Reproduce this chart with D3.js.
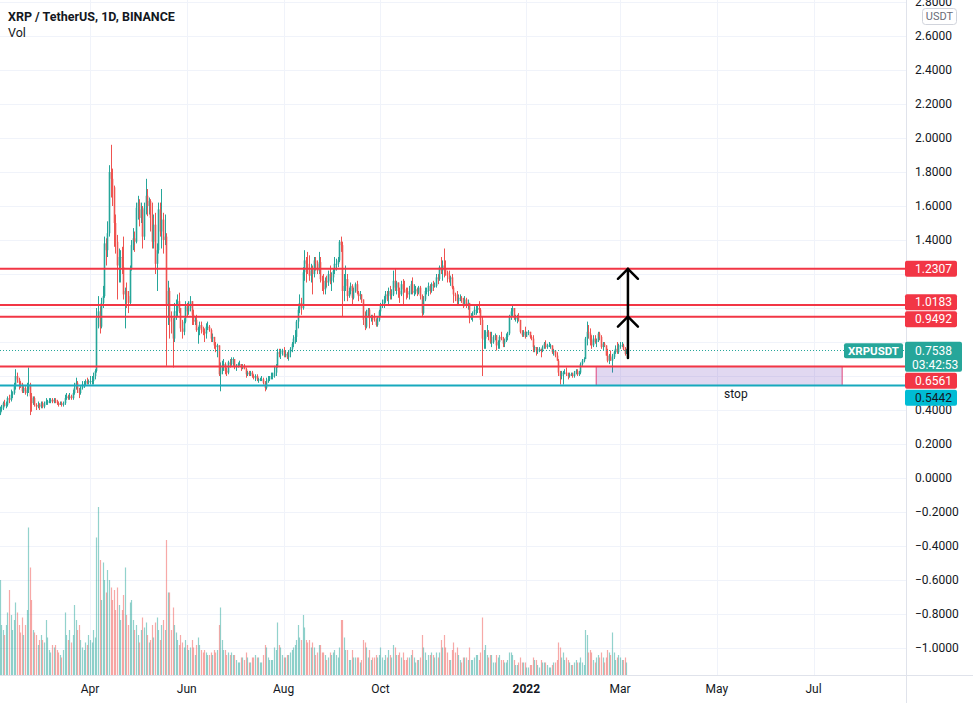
<!DOCTYPE html>
<html lang="en">
<head>
<meta charset="UTF-8">
<title>XRP / TetherUS, 1D, BINANCE</title>
<script src="https://cdn.jsdelivr.net/npm/d3@7"></script>
<style>
    body { margin: 0; background: #ffffff; }
    svg { display: block; font-family: Roboto, "Liberation Sans", sans-serif; }
</style>
</head>
<body>
<svg id="chart" width="973" height="703"></svg>
<script>
    // daily candles, first one is 2021-02-03; open = previous close
    var startDay = "2021-02-03";
    var firstOpen = 0.38;
    var closes = [
        // Feb 2021
        .41,.41,.44,.43,.43,.47,.46,.49,.50,.54,.60,.58,.56,.55,.51,.53,.50,.52,.55,.48,.44,.47,.43,.42,.43,.42,
        // Mar
        .44,.42,.44,.45,.45,.45,.46,.45,.46,.45,.44,.43,.44,.43,.44,.47,.48,.47,.48,.47,.50,.53,.56,.52,.50,.53,.55,.55,.57,.56,.57,
        // Apr
        .57,.57,.60,.63,.94,.98,.89,1.03,1.07,1.38,1.34,1.44,1.80,1.76,1.71,1.50,1.39,1.25,1.30,1.30,1.24,1.08,1.10,1.07,1.03,1.23,1.37,1.41,1.39,1.59,
        // May
        1.62,1.53,1.58,1.42,1.59,1.66,1.60,1.63,1.53,1.39,1.49,1.26,1.34,1.58,1.45,1.52,1.40,1.42,1.02,1.10,.95,.92,.82,.98,.98,1.04,1.00,.88,.86,.92,1.01,
        // Jun
        .98,1.00,1.04,.96,.92,.93,.87,.88,.90,.87,.86,.85,.89,.89,.87,.82,.83,.78,.77,.78,.61,.63,.66,.67,.63,.62,.68,.67,.70,.70,
        // Jul
        .66,.66,.67,.67,.65,.66,.64,.61,.62,.61,.62,.60,.59,.60,.58,.58,.58,.58,.56,.53,.57,.58,.59,.60,.60,.62,.66,.74,.73,.75,.75,
        // Aug
        .72,.73,.71,.74,.76,.79,.82,.83,.92,.99,1.03,1.00,1.21,1.28,1.26,1.22,1.19,1.23,1.20,1.28,1.26,1.22,1.27,1.17,1.16,1.11,1.16,1.15,1.20,1.16,1.18,
        // Sep
        1.22,1.26,1.26,1.28,1.39,1.37,1.10,1.13,1.17,1.07,1.10,1.13,1.06,1.10,1.14,1.09,1.07,1.08,1.05,.93,.89,.97,.99,.94,.95,.94,.93,.90,.93,.98,
        // Oct
        1.02,1.02,1.05,1.08,1.07,1.10,1.08,1.08,1.16,1.12,1.15,1.10,1.08,1.14,1.11,1.10,1.09,1.08,1.10,1.14,1.09,1.10,1.11,1.09,1.12,1.07,.97,1.05,1.10,1.10,1.13,
        // Nov
        1.10,1.14,1.13,1.13,1.18,1.17,1.24,1.22,1.25,1.23,1.21,1.19,1.17,1.18,1.12,1.08,1.07,1.04,1.06,1.06,1.05,1.02,1.05,1.02,1.03,.94,.95,.96,.99,.99,
        // Dec
        1.00,.99,.93,.82,.82,.85,.86,.84,.80,.80,.83,.84,.78,.80,.83,.82,.79,.81,.83,.85,.95,.98,1.00,.94,.94,.94,.93,.86,.84,.86,.83,
        // Jan 2022
        .86,.86,.83,.82,.77,.77,.75,.75,.76,.75,.77,.79,.77,.78,.78,.78,.74,.75,.72,.69,.62,.60,.62,.62,.62,.61,.60,.61,.61,.60,.62,
        // Feb
        .63,.61,.62,.67,.69,.70,.82,.86,.85,.81,.78,.82,.80,.81,.85,.83,.77,.79,.78,.72,.69,.72,.69,.71,.74,.76,.74,.78,
        // Mar
        .78,.78,.76,.73,.7538
    ];
    var highs = [
        .42,.43,.45,.46,.45,.48,.49,.52,.51,.56,.64,.62,.59,.57,.56,.54,.54,.56,.65,.56,.50,.48,.48,.44,.45,.44,
        .45,.45,.45,.47,.46,.47,.47,.47,.47,.47,.46,.45,.45,.45,.45,.49,.50,.49,.50,.49,.52,.56,.59,.57,.53,.54,.57,.57,.58,.59,.58,
        .60,.60,.62,.64,1.00,1.07,1.01,1.06,1.13,1.42,1.41,1.51,1.84,1.96,1.82,1.72,1.55,1.43,1.35,1.34,1.36,1.42,1.12,1.15,1.10,1.25,1.40,1.47,1.45,1.62,
        1.66,1.64,1.62,1.60,1.62,1.76,1.70,1.65,1.64,1.62,1.55,1.56,1.38,1.62,1.62,1.70,1.56,1.55,1.44,1.16,1.12,.98,.94,1.03,1.05,1.08,1.09,1.00,.93,.94,1.04,
        1.03,1.04,1.07,1.04,.99,.95,.96,.89,.92,.92,.89,.88,.91,.92,.90,.88,.85,.83,.80,.79,.78,.68,.69,.70,.68,.65,.69,.70,.71,.71,
        .70,.67,.68,.69,.67,.67,.67,.65,.63,.63,.63,.63,.61,.61,.61,.59,.59,.60,.59,.57,.59,.60,.60,.62,.62,.66,.67,.76,.76,.76,.76,
        .77,.75,.74,.75,.77,.80,.84,.87,.93,1.01,1.08,1.06,1.24,1.34,1.30,1.33,1.31,1.26,1.25,1.30,1.30,1.28,1.33,1.30,1.19,1.20,1.18,1.19,1.22,1.25,1.21,
        1.23,1.30,1.29,1.30,1.40,1.42,1.39,1.20,1.25,1.20,1.12,1.15,1.14,1.12,1.15,1.16,1.10,1.10,1.08,1.05,.98,.99,1.00,1.00,.96,.96,.97,.94,.95,.99,
        1.03,1.05,1.07,1.10,1.10,1.12,1.13,1.11,1.22,1.23,1.16,1.15,1.12,1.16,1.17,1.16,1.12,1.12,1.13,1.16,1.18,1.14,1.13,1.12,1.13,1.13,1.08,1.07,1.12,1.12,1.15,
        1.14,1.15,1.16,1.15,1.20,1.20,1.25,1.30,1.28,1.35,1.28,1.22,1.22,1.19,1.20,1.13,1.09,1.10,1.08,1.08,1.07,1.06,1.07,1.06,1.05,1.03,.97,.98,1.01,1.02,
        1.02,1.04,1.00,.95,.87,.87,.90,.87,.86,.86,.84,.85,.84,.81,.84,.86,.83,.82,.85,.86,.96,1.00,1.02,1.00,.96,.96,.97,.93,.87,.87,.89,
        .86,.87,.86,.84,.84,.78,.77,.77,.77,.76,.78,.80,.81,.79,.80,.79,.78,.76,.75,.74,.70,.63,.63,.63,.64,.65,.62,.62,.62,.62,.63,
        .64,.64,.63,.68,.70,.71,.83,.92,.90,.88,.84,.84,.84,.82,.86,.86,.84,.80,.80,.78,.76,.73,.75,.73,.75,.78,.80,.79,
        .80,.80,.79,.77,.76
    ];
    var lows = [
        .37,.39,.40,.42,.41,.42,.44,.45,.47,.49,.52,.56,.52,.53,.50,.50,.49,.48,.50,.37,.39,.43,.42,.40,.41,.40,
        .41,.41,.41,.43,.43,.44,.44,.44,.44,.44,.43,.42,.43,.42,.42,.43,.46,.46,.46,.46,.46,.49,.52,.50,.47,.49,.52,.53,.54,.55,.55,
        .55,.55,.55,.58,.62,.88,.85,.88,1.00,1.06,1.25,1.30,1.42,1.65,1.60,1.36,1.32,1.05,1.15,1.15,1.20,1.05,.88,1.00,.97,1.02,1.22,1.34,1.33,1.38,
        1.52,1.48,1.50,1.35,1.40,1.55,1.54,1.55,1.45,1.35,1.35,1.20,1.10,1.32,1.42,1.35,1.32,1.37,.66,.90,.82,.85,.65,.80,.93,.95,.97,.86,.82,.84,.91,
        .95,.96,.98,.90,.90,.90,.86,.79,.84,.85,.84,.80,.82,.87,.86,.80,.80,.76,.74,.71,.60,.51,.61,.63,.61,.60,.61,.65,.66,.66,
        .64,.63,.65,.66,.63,.64,.64,.59,.60,.60,.60,.59,.58,.57,.57,.56,.57,.57,.55,.51,.52,.56,.57,.58,.58,.59,.60,.65,.71,.70,.72,
        .71,.71,.70,.69,.71,.74,.77,.79,.80,.88,.97,.96,.99,1.16,1.15,1.20,1.16,1.15,1.08,1.18,1.22,1.20,1.20,1.15,1.10,1.08,1.08,1.12,1.13,1.14,1.10,
        1.15,1.20,1.22,1.24,1.27,1.33,.95,1.04,1.10,1.04,1.06,1.08,1.02,1.05,1.09,1.08,1.04,1.05,1.03,.90,.87,.88,.95,.88,.92,.90,.92,.89,.89,.92,
        .95,1.00,1.00,1.03,1.04,1.02,1.05,1.05,1.07,1.10,1.08,1.06,1.03,1.07,1.02,1.09,1.05,1.06,1.05,1.08,1.08,1.07,1.08,1.07,1.08,1.05,.95,.96,1.04,1.08,1.07,
        1.08,1.09,1.10,1.12,1.12,1.14,1.16,1.20,1.16,1.18,1.19,1.15,1.15,1.13,1.11,1.03,1.04,1.02,1.02,1.04,1.03,1.00,1.01,1.00,.99,.91,.93,.92,.96,.96,
        .97,.97,.90,.60,.76,.76,.83,.81,.79,.77,.79,.81,.75,.76,.76,.81,.77,.77,.80,.81,.84,.93,.95,.93,.92,.91,.92,.85,.83,.83,.82,
        .83,.84,.82,.81,.74,.74,.72,.73,.74,.71,.74,.76,.76,.76,.77,.76,.73,.72,.71,.69,.60,.55,.58,.55,.61,.60,.58,.59,.60,.59,.59,
        .61,.60,.60,.61,.66,.68,.70,.78,.82,.78,.76,.77,.79,.77,.80,.81,.76,.75,.77,.72,.68,.67,.69,.62,.70,.73,.73,.73,
        .76,.77,.75,.72,.73
    ];
    // volume, millions of XRP
    var volumes = [
        1900,1000,900,800,1000,1250,1700,1200,900,1100,1450,1250,1000,850,1150,800,1000,1300,2950,2150,1500,900,850,800,600,700,
        800,700,650,1100,750,500,450,600,550,600,500,450,400,350,500,1250,800,700,900,650,800,1400,1100,900,1000,700,550,500,650,600,800,
        700,650,900,750,2750,3360,2300,1500,2250,1900,1650,2100,1900,1750,1500,1700,1300,1750,1400,1100,1300,1600,2150,1200,1000,1450,1500,1100,900,1000,
        800,650,900,1150,950,1050,800,650,700,1000,750,1050,1150,900,700,1000,1100,900,2700,1650,1650,900,1350,1000,850,700,600,800,650,550,700,
        600,500,550,700,550,400,600,750,600,500,450,500,450,400,400,450,400,500,450,500,1000,1350,700,500,500,400,450,400,450,400,
        400,300,250,250,350,350,300,450,350,250,250,350,350,400,350,350,250,250,400,600,550,350,300,300,300,550,500,1050,600,550,400,
        350,350,400,400,450,500,550,600,700,1000,750,700,1200,950,700,650,700,550,650,550,400,450,600,600,450,450,400,300,350,450,400,
        450,500,400,350,550,1100,1100,750,500,500,300,300,500,350,350,350,350,250,300,700,650,550,350,500,300,350,350,400,350,400,
        550,350,300,400,350,500,400,350,600,550,400,400,450,350,450,300,300,350,350,400,500,350,250,300,300,350,800,550,450,300,400,
        400,450,400,350,450,350,450,700,550,800,550,450,300,300,500,650,450,550,400,300,250,350,350,350,300,550,300,300,350,400,
        400,300,450,1150,500,600,400,350,400,400,250,250,400,350,400,300,300,250,250,300,450,450,400,300,200,200,250,350,250,250,250,
        150,150,200,200,350,300,300,200,150,300,250,250,250,200,150,150,200,250,250,300,650,550,350,450,300,350,300,250,200,200,250,
        300,250,250,350,250,200,900,800,450,500,450,300,250,350,400,350,450,350,250,350,500,450,400,850,450,300,350,400,
        350,300,300,350,250
    ];

    var priceTicks = [-1.0, -0.8, -0.6, -0.4, -0.2, 0.0, 0.2, 0.4, 0.6, 0.8, 1.0, 1.2, 1.4, 1.6, 1.8, 2.0, 2.2, 2.4, 2.6, 2.8];
    var timeTicks = ["2021-04-01", "2021-06-01", "2021-08-01", "2021-10-01", "2022-01-01", "2022-03-01", "2022-05-01", "2022-07-01"];
    var timeLabels = ["Apr", "Jun", "Aug", "Oct", "2022", "Mar", "May", "Jul"];

    // drawings
    var redLevels = [1.2307, 1.0183, 0.9492, 0.6561];
    var supportLevel = 0.5442;
    var stopBox = {from: "2022-02-14", to: "2022-07-19", low: 0.5442, high: 0.6561, label: "stop", labelAt: "2022-05-13"};
    var arrowDay = "2022-03-06";
    var arrowSteps = [0.706, 0.9492, 1.2307];
    var lastPrice = 0.7538;
    var countdown = "03:42:53";

    var W = 973, H = 703, paneRight = 906, paneBottom = 675;
    var UP = "#26a69a", DOWN = "#ef5350", RED = "#f23645", GRID = "#f0f3fa", TEXT = "#131722";

    var parseDay = d3.utcParse("%Y-%m-%d");
    var start = parseDay(startDay);
    var data = closes.map(function (c, i) {
        return {
            date: d3.utcDay.offset(start, i),
            open: i ? closes[i - 1] : firstOpen,
            high: highs[i], low: lows[i], close: c, volume: volumes[i]
        };
    });

    var x = d3.scaleUtc().domain([parseDay("2021-04-01"), parseDay("2022-03-01")]).range([90, 620]);
    var y = d3.scaleLinear().domain([0, 2.8]).range([478, 2]);
    var yVol = d3.scaleLinear().domain([0, d3.max(volumes)]).range([paneBottom, 507]);

    var svg = d3.select("#chart");
    svg.append("defs").append("clipPath").attr("id", "pane")
        .append("rect").attr("width", paneRight).attr("height", paneBottom);

    var pane = svg.append("g").attr("clip-path", "url(#pane)");

    // grid
    pane.selectAll(".hgrid").data(priceTicks).join("line")
        .attr("x1", 0).attr("x2", paneRight)
        .attr("y1", function (d) { return Math.round(y(d)) + 0.5; })
        .attr("y2", function (d) { return Math.round(y(d)) + 0.5; })
        .attr("stroke", GRID);
    pane.selectAll(".vgrid").data(timeTicks).join("line")
        .attr("x1", function (d) { return Math.round(x(parseDay(d))) + 0.5; })
        .attr("x2", function (d) { return Math.round(x(parseDay(d))) + 0.5; })
        .attr("y1", 0).attr("y2", paneBottom)
        .attr("stroke", GRID);

    function cx(d) { return Math.round(x(d.date)) + 0.5; }
    function isUp(d) { return d.close >= d.open; }

    // volume
    pane.append("g").selectAll("rect").data(data).join("rect")
        .attr("x", function (d) { return cx(d) - 0.6; })
        .attr("width", 1.2)
        .attr("y", function (d) { return yVol(d.volume); })
        .attr("height", function (d) { return paneBottom - yVol(d.volume); })
        .attr("fill", function (d) { return isUp(d) ? UP : DOWN; })
        .attr("fill-opacity", 0.5);

    // candles
    var cg = pane.append("g");
    cg.selectAll("line").data(data).join("line")
        .attr("x1", cx).attr("x2", cx)
        .attr("y1", function (d) { return y(Math.max(d.high, d.open, d.close)); })
        .attr("y2", function (d) { return y(Math.min(d.low, d.open, d.close)); })
        .attr("stroke", function (d) { return isUp(d) ? UP : DOWN; })
        .attr("stroke-width", 1);
    cg.selectAll("rect").data(data).join("rect")
        .attr("x", function (d) { return cx(d) - 0.8; })
        .attr("width", 1.6)
        .attr("y", function (d) { return y(Math.max(d.open, d.close)); })
        .attr("height", function (d) { return Math.max(1, Math.abs(y(d.open) - y(d.close))); })
        .attr("fill", function (d) { return isUp(d) ? UP : DOWN; });

    // stop zone
    pane.append("rect")
        .attr("x", x(parseDay(stopBox.from)))
        .attr("width", x(parseDay(stopBox.to)) - x(parseDay(stopBox.from)))
        .attr("y", y(stopBox.high))
        .attr("height", y(stopBox.low) - y(stopBox.high))
        .attr("fill", "rgba(103,58,183,0.2)")
        .attr("stroke", "#e0457b").attr("stroke-width", 1);

    // horizontal levels
    pane.selectAll(".lvl").data(redLevels).join("line")
        .attr("x1", 0).attr("x2", paneRight)
        .attr("y1", function (d) { return y(d); }).attr("y2", function (d) { return y(d); })
        .attr("stroke", RED).attr("stroke-width", 2);
    pane.append("line")
        .attr("x1", 0).attr("x2", paneRight)
        .attr("y1", y(supportLevel)).attr("y2", y(supportLevel))
        .attr("stroke", "#17a9bd").attr("stroke-width", 2);

    pane.append("text")
        .attr("x", x(parseDay(stopBox.labelAt)))
        .attr("y", y(stopBox.low) + 13)
        .attr("text-anchor", "middle")
        .attr("font-size", 12).attr("fill", TEXT)
        .text(stopBox.label);

    // last price line
    pane.append("line")
        .attr("x1", 0).attr("x2", paneRight)
        .attr("y1", Math.round(y(lastPrice)) + 0.5).attr("y2", Math.round(y(lastPrice)) + 0.5)
        .attr("stroke", UP).attr("stroke-dasharray", "1,2");

    // arrows
    var ax = x(parseDay(arrowDay));
    var ag = pane.append("g").attr("stroke", "#000").attr("stroke-width", 2.5)
        .attr("fill", "none").attr("stroke-linecap", "round").attr("stroke-linejoin", "round");
    ag.append("line").attr("x1", ax).attr("x2", ax)
        .attr("y1", y(arrowSteps[0])).attr("y2", y(arrowSteps[arrowSteps.length - 1]));
    ag.selectAll("path").data(arrowSteps.slice(1)).join("path")
        .attr("d", function (d) {
            var ty = y(d);
            return "M" + (ax - 10) + "," + (ty + 10) + "L" + ax + "," + ty + "L" + (ax + 10) + "," + (ty + 10);
        });

    // title
    svg.append("text").attr("x", 8).attr("y", 21)
        .attr("font-size", 12.5).attr("font-weight", 700).attr("fill", TEXT)
        .text("XRP / TetherUS, 1D, BINANCE");
    svg.append("text").attr("x", 8).attr("y", 37)
        .attr("font-size", 12.5).attr("fill", TEXT)
        .text("Vol");

    // price labels on the axis, pushed apart like the terminal does
    var lastY = y(lastPrice);
    var marks = redLevels.map(function (p) { return {price: p, c: y(p), h: 16, bg: RED, fg: "#fff"}; });
    marks.push({price: supportLevel, c: y(supportLevel), h: 16, bg: "#00bcd4", fg: TEXT});
    var fixed = {c: lastY + 7, h: 30, fixed: true};
    var all = marks.concat([fixed]);
    for (var pass = 0; pass < 60; pass++) {
        all.sort(function (a, b) { return a.c - b.c; });
        for (var k = 0; k < all.length - 1; k++) {
            var a = all[k], b = all[k + 1];
            var need = (a.h + b.h) / 2 + 1 - (b.c - a.c);
            if (need > 0) {
                if (a.fixed) b.c += need;
                else if (b.fixed) a.c -= need;
                else { a.c -= need / 2; b.c += need / 2; }
            }
        }
    }

    // price axis
    var axisG = svg.append("g");
    axisG.append("rect").attr("x", paneRight).attr("width", W - paneRight).attr("height", H).attr("fill", "#fff");
    axisG.append("line").attr("x1", paneRight + 0.5).attr("x2", paneRight + 0.5)
        .attr("y1", 0).attr("y2", H).attr("stroke", "#e0e3eb");
    axisG.append("line").attr("x1", 0).attr("x2", W)
        .attr("y1", paneBottom + 0.5).attr("y2", paneBottom + 0.5).attr("stroke", "#e0e3eb");
    var fmt = d3.format(".4f");
    // tick labels sitting under a price label are hidden, as on the terminal
    function covered(t) {
        var ty = y(t);
        return all.some(function (m) { return Math.abs(ty - m.c) < m.h / 2 + 3; });
    }
    axisG.selectAll(".tick").data(priceTicks.filter(function (t) { return !covered(t); })).join("text")
        .attr("x", 915).attr("y", function (d) { return y(d); })
        .attr("dy", "0.35em").attr("font-size", 12).attr("fill", TEXT)
        .text(function (d) { return fmt(d); });

    axisG.append("rect").attr("x", 922.5).attr("y", 8.5).attr("width", 34).attr("height", 16).attr("rx", 3)
        .attr("fill", "#fff").attr("stroke", "#d1d4dc");
    axisG.append("text").attr("x", 939.5).attr("y", 16.5).attr("dy", "0.35em")
        .attr("text-anchor", "middle").attr("font-size", 11).attr("fill", "#6a6d78").text("USDT");

    // time axis
    svg.selectAll(".tl").data(timeTicks).join("text")
        .attr("x", function (d) { return x(parseDay(d)); })
        .attr("y", 693).attr("text-anchor", "middle")
        .attr("font-size", 12).attr("fill", TEXT)
        .attr("font-weight", function (d, i) { return timeLabels[i] === "2022" ? 700 : 400; })
        .text(function (d, i) { return timeLabels[i]; });

    var lg = svg.append("g");
    marks.forEach(function (m) {
        lg.append("rect").attr("x", 905).attr("y", m.c - m.h / 2).attr("width", 52).attr("height", m.h)
            .attr("rx", 2).attr("fill", m.bg);
        lg.append("text").attr("x", 915).attr("y", m.c).attr("dy", "0.35em")
            .attr("font-size", 12).attr("fill", m.fg).text(fmt(m.price));
    });
    lg.append("rect").attr("x", 905).attr("y", fixed.c - fixed.h / 2).attr("width", 57).attr("height", fixed.h)
        .attr("rx", 2).attr("fill", UP);
    lg.append("text").attr("x", 915).attr("y", lastY + 1).attr("dy", "0.35em")
        .attr("font-size", 12).attr("fill", "#fff").text(fmt(lastPrice));
    lg.append("text").attr("x", 912).attr("y", lastY + 15).attr("dy", "0.35em")
        .attr("font-size", 12).attr("fill", "#fff").text(countdown);
    lg.append("rect").attr("x", 844).attr("y", lastY - 6.5).attr("width", 59).attr("height", 15)
        .attr("rx", 2).attr("fill", UP);
    lg.append("text").attr("x", 873.5).attr("y", lastY + 1).attr("dy", "0.35em")
        .attr("text-anchor", "middle").attr("font-size", 11.5).attr("font-weight", 700)
        .attr("fill", "#fff").text("XRPUSDT");
</script>
</body>
</html>
